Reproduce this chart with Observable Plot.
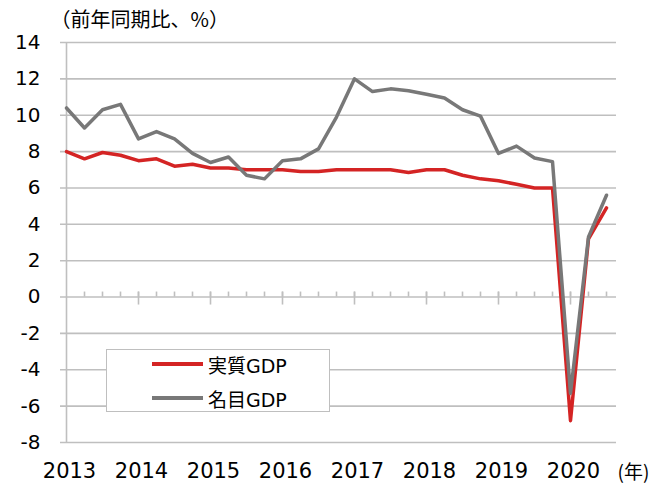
<!DOCTYPE html>
<html><head><meta charset="utf-8">
<script src="https://cdn.jsdelivr.net/npm/d3@7"></script>
<script src="https://cdn.jsdelivr.net/npm/@observablehq/plot@0.6"></script>
<style>
body{margin:0;background:#fff;}
#wrap{position:relative;width:665px;height:488px;overflow:hidden;}
#legend{position:absolute;left:106px;top:349px;width:224px;height:63px;border:1px solid #bfbfbf;background:#fff;box-sizing:border-box;}
#legend .item{position:absolute;left:45px;height:24px;display:flex;align-items:center;font-family:"DejaVu Sans","Noto Sans CJK JP",sans-serif;font-size:19px;color:#000;white-space:nowrap;}
#legend .sw{display:inline-block;width:51px;height:4px;margin-right:5px;}
</style></head><body><div id="wrap"></div>
<script>
const quarters = [
  "2013Q1","2013Q2","2013Q3","2013Q4",
  "2014Q1","2014Q2","2014Q3","2014Q4",
  "2015Q1","2015Q2","2015Q3","2015Q4",
  "2016Q1","2016Q2","2016Q3","2016Q4",
  "2017Q1","2017Q2","2017Q3","2017Q4",
  "2018Q1","2018Q2","2018Q3","2018Q4",
  "2019Q1","2019Q2","2019Q3","2019Q4",
  "2020Q1","2020Q2","2020Q3"
];
const realGDP = [
  8.0, 7.6, 7.95, 7.8,
  7.5, 7.6, 7.2, 7.3,
  7.1, 7.1, 7.0, 7.0,
  7.0, 6.9, 6.9, 7.0,
  7.0, 7.0, 7.0, 6.85,
  7.0, 7.0, 6.7, 6.5,
  6.4, 6.2, 6.0, 6.0,
  -6.8, 3.2, 4.9
];
const nominalGDP = [
  10.4, 9.3, 10.3, 10.6,
  8.7, 9.1, 8.7, 7.9,
  7.4, 7.7, 6.7, 6.5,
  7.5, 7.6, 8.15, 9.9,
  12.0, 11.3, 11.45, 11.35,
  11.15, 10.95, 10.3, 9.95,
  7.9, 8.3, 7.65, 7.45,
  -5.3, 3.3, 5.6
];
const seriesNames = ["実質GDP", "名目GDP"];
const seriesColors = ["#d42424", "#787878"];
const yTicks = [-8, -6, -4, -2, 0, 2, 4, 6, 8, 10, 12, 14];
const yearTicks = ["2013Q1","2014Q1","2015Q1","2016Q1","2017Q1","2018Q1","2019Q1","2020Q1"];
const titleText = "（前年同期比、%）";
const unitText = "(年)";

const data = quarters.map((q, i) => ({q, real: realGDP[i], nominal: nominalGDP[i]}));
const grid = "#bfbfbf";
const numFont = "'DejaVu Sans', sans-serif";

const chart = Plot.plot({
  width: 665,
  height: 488,
  marginLeft: 60,
  marginRight: 49,
  marginTop: 42,
  marginBottom: 46,
  style: {fontFamily: numFont, fontSize: "20px", color: "#000", background: "#fff", overflow: "visible"},
  x: {type: "point", domain: quarters, padding: 0, insetRight: 5, label: null},
  y: {domain: [-8, 14], label: null},
  marks: [
    Plot.ruleY(yTicks, {stroke: grid, strokeWidth: 1.6}),
    Plot.ruleX([quarters[0]], {stroke: grid, strokeWidth: 1.6}),
    Plot.ruleX(quarters.slice(1), {y1: 0, y2: 0, insetTop: -5, stroke: grid, strokeWidth: 1.6}),
    Plot.ruleX(yearTicks.slice(1), {y1: 0, y2: 0, insetTop: -5, insetBottom: -8, stroke: grid, strokeWidth: 1.6}),
    Plot.axisY({ticks: yTicks, tickSize: 0, tickPadding: 20, tickFormat: d => String(d), fontSize: 20, label: null}),
    Plot.axisX({ticks: yearTicks, tickSize: 0, tickPadding: 21, tickFormat: d => d.slice(0, 4), fontSize: 21, dx: 3, label: null}),
    Plot.line(data, {x: "q", y: "real", stroke: seriesColors[0], strokeWidth: 3.5}),
    Plot.line(data, {x: "q", y: "nominal", stroke: seriesColors[1], strokeWidth: 3.5}),
    Plot.text([titleText], {text: d => d, frameAnchor: "top-left", textAnchor: "start", lineAnchor: "middle", dx: -10, dy: -22, fontSize: 20, fontFamily: "Noto Sans CJK JP", letterSpacing: 2.5}),
    Plot.text([unitText], {text: d => d, frameAnchor: "bottom-right", textAnchor: "start", lineAnchor: "middle", dx: 1, dy: 30, fontSize: 19, fontFamily: "Noto Sans CJK JP"})
  ]
});
const wrap = document.getElementById("wrap");
wrap.appendChild(chart);

const legend = document.createElement("div");
legend.id = "legend";
seriesNames.forEach((name, i) => {
  const item = document.createElement("div");
  item.className = "item";
  item.style.top = (2 + i * 34) + "px";
  const sw = document.createElement("span");
  sw.className = "sw";
  sw.style.background = seriesColors[i];
  const tx = document.createElement("span");
  tx.textContent = name;
  item.appendChild(sw);
  item.appendChild(tx);
  legend.appendChild(item);
});
wrap.appendChild(legend);
</script>
</body></html>
